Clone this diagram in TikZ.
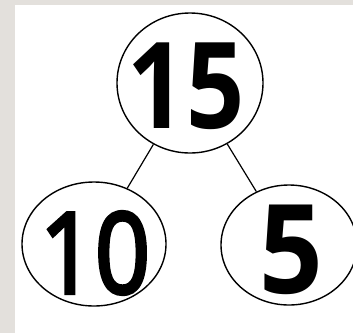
\documentclass[tikz,border=0pt]{standalone}
\usepackage{fontspec}
\setmainfont{Open Sans}
\newfontfamily\semifont[FakeBold=3.5]{Open Sans}
\usetikzlibrary{shapes.geometric}
\definecolor{bggray}{HTML}{E3E0DC}
\tikzset{
  ring/.style={ellipse, draw=black, line width=1.4pt, inner sep=0pt, fill=white},
  num/.style={inner sep=0pt, text=black},
  link/.style={draw=black, line width=1.2pt}
}
\begin{document}
\begin{tikzpicture}[x=1pt,y=-1pt]
  \fill[bggray] (0,0) rectangle (353,333);
  \fill[white] (15,5) rectangle (353,333);
  \useasboundingbox (0,0) rectangle (353,333);
  \node[ring, minimum width=146pt, minimum height=140pt] (top) at (190,83) {};
  \node[ring, minimum width=144pt, minimum height=124pt] (left) at (94,244) {};
  \node[ring, minimum width=136pt, minimum height=120pt] (right) at (289,245) {};
  \draw[link] (top) -- (left);
  \draw[link] (top) -- (right);
  \node[num, font=\fontsize{120}{120}\selectfont\bfseries] (t15) at (186,86) {\scalebox{0.85}[1]{15}};
  \node[num, font=\fontsize{112}{112}\selectfont\semifont] (t10) at (95,253) {\scalebox{0.86}[1]{10}};
  \node[num, font=\fontsize{124}{124}\selectfont\bfseries] (t5) at (291,250) {\scalebox{0.9}[1]{5}};
\end{tikzpicture}
\end{document}
